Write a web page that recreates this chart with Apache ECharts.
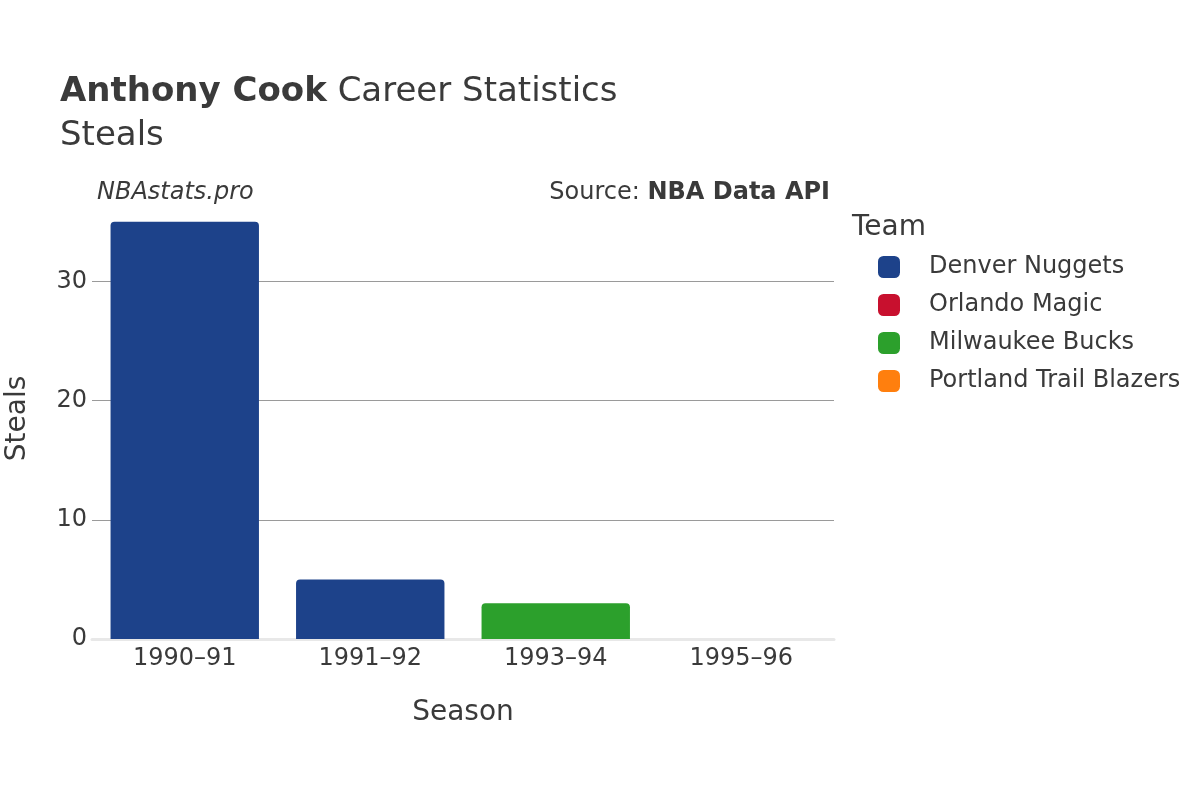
<!DOCTYPE html>
<html>
<head>
<meta charset="utf-8">
<script src="https://cdn.jsdelivr.net/npm/echarts@6/dist/echarts.min.js"></script>
<style>
  html, body { margin: 0; padding: 0; background: #fff; }
  #chart { width: 1200px; height: 800px; }
</style>
</head>
<body>
<div id="chart"></div>
<script>
const seasons = ['1990–91', '1991–92', '1993–94', '1995–96'];
const teams = ['Denver Nuggets', 'Orlando Magic', 'Milwaukee Bucks', 'Portland Trail Blazers'];
const teamColors = ['#1d428a', '#c8102e', '#2ca02c', '#ff7f0e'];
const denverSteals = [35, 5, null, null];
const orlandoSteals = [null, null, 0, null];
const milwaukeeSteals = [null, null, 3, null];
const portlandSteals = [null, null, null, 0];
const gridValues = [10, 20, 30];

const font = 'DejaVu Sans';
const textColor = '#3a3a3a';

const chart = echarts.init(document.getElementById('chart'));

const teamData = [denverSteals, orlandoSteals, milwaukeeSteals, portlandSteals];
const barSeries = teams.map((name, i) => ({
  name: name,
  type: 'bar',
  stack: 'steals',
  barWidth: '80%',
  z: 3,
  itemStyle: { color: teamColors[i], borderRadius: [4, 4, 0, 0] },
  data: teamData[i]
}));

// gridlines drawn through the axis scale, behind the bars
barSeries.push({
  name: 'grid',
  type: 'line',
  data: [],
  silent: true,
  markLine: {
    silent: true,
    z: 1,
    symbol: 'none',
    label: { show: false },
    lineStyle: { color: '#9a9a9a', width: 1, type: 'solid' },
    data: gridValues.map(v => ({ yAxis: v }))
  }
});

chart.setOption({
  animation: false,
  textStyle: { fontFamily: font },
  title: {
    left: 55,
    top: 65,
    text: '{b|Anthony Cook} Career Statistics\nSteals',
    textStyle: {
      fontFamily: font,
      fontSize: 34,
      fontWeight: 'normal',
      color: textColor,
      lineHeight: 44,
      rich: {
        b: { fontFamily: font, fontSize: 34, fontWeight: 'bold', color: textColor, lineHeight: 44 }
      }
    }
  },
  graphic: [
    {
      type: 'text', left: 97, top: 181,
      style: { text: 'NBAstats.pro', fontFamily: font, fontSize: 24, fontStyle: 'italic', fill: textColor }
    },
    {
      type: 'text', right: 370, top: 181,
      style: {
        text: 'Source: {b|NBA Data API}', fontFamily: font, fontSize: 24, fill: textColor,
        rich: { b: { fontFamily: font, fontSize: 24, fontWeight: 'bold', fill: textColor } }
      }
    },
    {
      type: 'text', left: 852, top: 214,
      style: { text: 'Team', fontFamily: font, fontSize: 28, fill: textColor }
    }
  ],
  legend: {
    orient: 'vertical',
    left: 873,
    top: 250,
    icon: 'roundRect',
    itemWidth: 22,
    itemHeight: 22,
    itemGap: 14,
    data: teams,
    textStyle: { fontFamily: font, fontSize: 24, color: textColor, padding: [0, 0, 0, 24] }
  },
  grid: { left: 92, right: 366, top: 198, bottom: 161, outerBoundsMode: 'none' },
  xAxis: {
    type: 'category',
    data: seasons,
    name: 'Season',
    nameLocation: 'middle',
    nameGap: 60,
    nameTextStyle: { fontFamily: font, fontSize: 28, color: textColor },
    axisLine: { show: true, lineStyle: { color: '#e8e8e8', width: 3 } },
    axisTick: { show: false },
    axisLabel: { fontFamily: font, fontSize: 24, color: textColor, margin: 8 }
  },
  yAxis: {
    type: 'value',
    min: 0,
    max: 37,
    interval: 10,
    name: 'Steals',
    nameLocation: 'middle',
    nameGap: 60,
    nameTextStyle: { fontFamily: font, fontSize: 28, color: textColor },
    axisLine: { show: false },
    axisTick: { show: false },
    splitLine: { show: false },
    axisLabel: {
      fontFamily: font, fontSize: 24, color: textColor, margin: 5,
      showMaxLabel: false
    }
  },
  series: barSeries
});
</script>
</body>
</html>
